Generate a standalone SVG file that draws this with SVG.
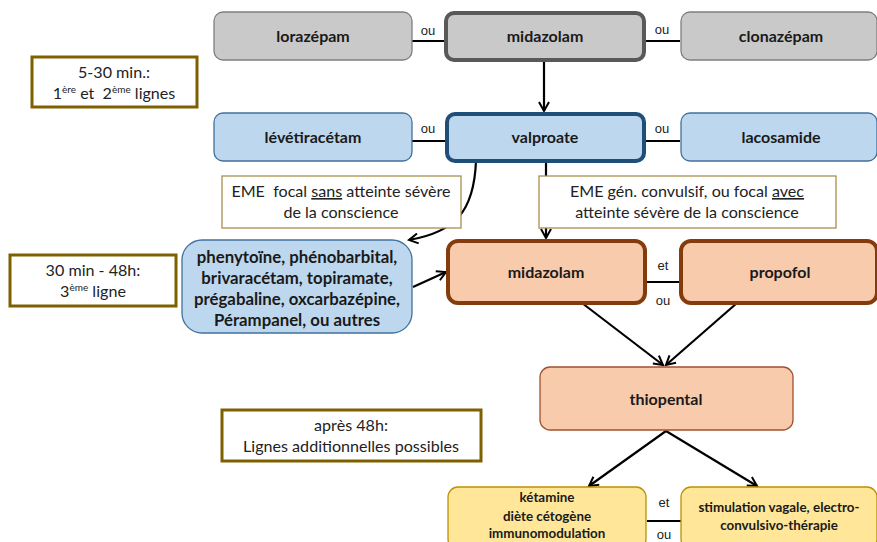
<svg xmlns="http://www.w3.org/2000/svg" width="877" height="542" viewBox="0 0 877 542">
<defs>
<marker id="arr" markerWidth="12" markerHeight="12" refX="10" refY="6" orient="auto" markerUnits="userSpaceOnUse">
<path d="M1,1 L10,6 L1,11" fill="none" stroke="#000" stroke-width="2"/>
</marker>
<style>
.lbl{font-family:Lato,"Open Sans","Liberation Sans",sans-serif;font-weight:bold;font-size:16px;fill:#1a1a1a;text-anchor:middle}
.big{font-family:Lato,"Open Sans","Liberation Sans",sans-serif;font-weight:bold;font-size:16.8px;fill:#1a1a1a;text-anchor:middle}
.sm{font-family:Lato,"Open Sans","Liberation Sans",sans-serif;font-weight:bold;font-size:13.4px;fill:#1a1a1a;text-anchor:middle}
.note{font-family:Lato,"Open Sans","Liberation Sans",sans-serif;font-size:16.1px;fill:#222;text-anchor:middle}
.ou{font-family:"Liberation Sans",Arial,sans-serif;font-size:13px;fill:#222;text-anchor:middle}
.gray{fill:#c9c9c9;stroke:#7f7f7f;stroke-width:1.3}
.grayk{fill:#c9c9c9;stroke:#595959;stroke-width:4}
.blue{fill:#bdd7ee;stroke:#41719c;stroke-width:1.3}
.bluek{fill:#bdd7ee;stroke:#1f4e79;stroke-width:4}
.org{fill:#f8cbad;stroke:#843c0c;stroke-width:4}
.orgt{fill:#f8cbad;stroke:#a0522d;stroke-width:1.3}
.yel{fill:#ffe699;stroke:#bf9000;stroke-width:1.3}
.ann{fill:#fff;stroke:#7f6000;stroke-width:3}
.annt{fill:#fff;stroke:#a8904f;stroke-width:1.3}
.ln{fill:none;stroke:#000;stroke-width:2.2}
</style>
</defs>
<rect width="877" height="542" fill="#fff"/>

<g id="connectors">
<line class="ln" x1="412" y1="41" x2="445" y2="41"/>
<line class="ln" x1="645" y1="41" x2="680" y2="41"/>
<line class="ln" x1="412" y1="141" x2="446" y2="141"/>
<line class="ln" x1="645" y1="141" x2="680" y2="141"/>
<line class="ln" x1="544" y1="60" x2="544" y2="111" marker-end="url(#arr)"/>
<path class="ln" d="M476,161 C474,212 455,232 409,240" marker-end="url(#arr)"/>
<line class="ln" x1="546" y1="161" x2="546" y2="238" marker-end="url(#arr)"/>
<line class="ln" x1="413" y1="287" x2="446" y2="272" marker-end="url(#arr)"/>
<line class="ln" x1="647" y1="282" x2="680" y2="282"/>
<line class="ln" x1="582" y1="303" x2="663" y2="365" marker-end="url(#arr)"/>
<line class="ln" x1="737" y1="303" x2="666" y2="365" marker-end="url(#arr)"/>
<line class="ln" x1="666" y1="431" x2="589" y2="486" marker-end="url(#arr)"/>
<line class="ln" x1="666" y1="431" x2="757" y2="486" marker-end="url(#arr)"/>
<line class="ln" x1="647" y1="521" x2="681" y2="521"/>
<text class="ou" x="428" y="35">ou</text>
<text class="ou" x="662" y="34">ou</text>
<text class="ou" x="428" y="133">ou</text>
<text class="ou" x="662" y="133">ou</text>
<text class="ou" x="663" y="270">et</text>
<text class="ou" x="663" y="305">ou</text>
<text class="ou" x="664" y="507">et</text>
<text class="ou" x="664" y="539">ou</text>
</g>

<g id="n-lorazepam"><rect class="gray" x="214" y="12" width="198" height="48" rx="9"/><text class="lbl" x="313" y="42">lorazépam</text></g>
<g id="n-midazolam1"><rect class="grayk" x="446" y="13" width="198" height="47" rx="8"/><text class="lbl" x="545" y="42">midazolam</text></g>
<g id="n-clonazepam"><rect class="gray" x="681" y="12" width="196" height="48" rx="9"/><text class="lbl" x="781" y="42">clonazépam</text></g>

<g id="n-levetiracetam"><rect class="blue" x="214" y="113" width="198" height="48" rx="9"/><text class="lbl" x="313" y="143">lévétiracétam</text></g>
<g id="n-valproate"><rect class="bluek" x="447" y="114" width="197" height="47" rx="8"/><text class="lbl" x="545" y="143">valproate</text></g>
<g id="n-lacosamide"><rect class="blue" x="681" y="113" width="196" height="48" rx="9"/><text class="lbl" x="781" y="143">lacosamide</text></g>

<g id="a-5-30"><rect class="ann" x="32" y="57" width="165" height="50"/>
<text class="note" x="114" y="78">5-30 min.:</text>
<text class="note" x="114" y="99">1<tspan font-size="10" dy="-6">ère</tspan><tspan dy="6"> et &#160;2</tspan><tspan font-size="10" dy="-6">ème</tspan><tspan dy="6"> lignes</tspan></text>
</g>

<g id="a-focal"><rect class="annt" x="222" y="176" width="239" height="52"/>
<text class="note" x="341" y="197">EME &#160;focal <tspan text-decoration="underline">sans</tspan> atteinte sévère</text>
<text class="note" x="341" y="218">de la conscience</text>
</g>
<g id="a-gen"><rect class="annt" x="539" y="176" width="297" height="52"/>
<text class="note" x="687" y="197">EME gén. convulsif, ou focal <tspan text-decoration="underline">avec</tspan></text>
<text class="note" x="687" y="218">atteinte sévère de la conscience</text>
</g>

<g id="a-30-48"><rect class="ann" x="10" y="255" width="166" height="51"/>
<text class="note" x="93" y="276">30 min - 48h:</text>
<text class="note" x="93" y="297">3<tspan font-size="10" dy="-6">ème</tspan><tspan dy="6"> ligne</tspan></text>
</g>

<g id="n-third"><rect class="blue" x="182" y="240" width="230" height="93" rx="20"/>
<text class="big" x="297" y="263">phenytoïne, phénobarbital,</text>
<text class="big" x="297" y="284">brivaracétam, topiramate,</text>
<text class="big" x="297" y="305">prégabaline, oxcarbazépine,</text>
<text class="big" x="297" y="326">Pérampanel, ou autres</text>
</g>

<g id="n-midazolam2"><rect class="org" x="448" y="241" width="197" height="62" rx="10"/><text class="lbl" x="546" y="278">midazolam</text></g>
<g id="n-propofol"><rect class="org" x="681" y="241" width="196" height="62" rx="10"/><text class="lbl" x="780" y="278">propofol</text></g>

<g id="n-thiopental"><rect class="orgt" x="540" y="367" width="253" height="63" rx="10"/><text class="lbl" x="666" y="405">thiopental</text></g>

<g id="a-48"><rect class="ann" x="222" y="410" width="259" height="51"/>
<text class="note" x="351" y="431">après 48h:</text>
<text class="note" x="351" y="452">Lignes additionnelles possibles</text>
</g>

<g id="n-ketamine"><rect class="yel" x="448" y="487" width="198" height="62" rx="10"/>
<text class="sm" x="547" y="502">kétamine</text>
<text class="sm" x="547" y="521">diète cétogène</text>
<text class="sm" x="547" y="538">immunomodulation</text>
</g>
<g id="n-stimulation"><rect class="yel" x="681" y="487" width="196" height="62" rx="10"/>
<text class="sm" x="779" y="512">stimulation vagale, electro-</text>
<text class="sm" x="779" y="530">convulsivo-thérapie</text>
</g>
</svg>
